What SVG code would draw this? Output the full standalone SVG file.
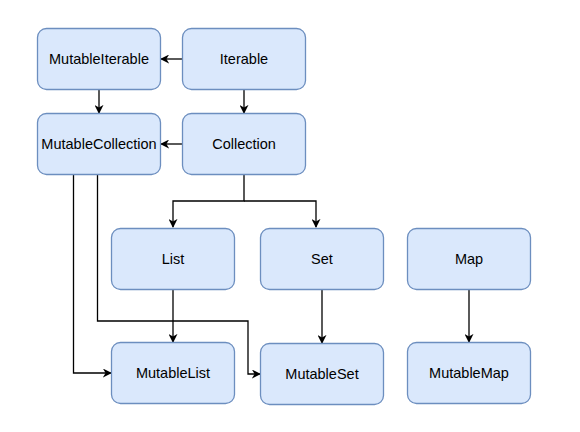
<svg xmlns="http://www.w3.org/2000/svg" width="580" height="432" viewBox="0 0 580 432">
<style>
.n rect{fill:#dae8fc;stroke:#6c8ebf;stroke-width:1.3}
.n text{font-family:"Liberation Sans",Arial,sans-serif;font-size:14.5px;fill:#000;text-anchor:middle}
.e path{fill:none;stroke:#000;stroke-width:1.3;marker-end:url(#a)}
</style>
<defs>
<marker id="a" viewBox="0 0 10 10" refX="9" refY="5" markerWidth="9" markerHeight="9" markerUnits="userSpaceOnUse" orient="auto">
<path d="M0,0 L10,5 L0,10 L3,5 Z" fill="#000"/>
</marker>
</defs>
<rect width="580" height="432" fill="#fff"/>
<g class="e" id="connectors">
<path d="M182.5,59 H161"/>
<path d="M99,89.5 V113"/>
<path d="M244,89.5 V113"/>
<path d="M182.5,144 H161"/>
<path d="M244,174.5 V201 H173 V227"/>
<path d="M244,201 H316 V227"/>
<path d="M73.5,174.5 V373 H111"/>
<path d="M97.5,174.5 V321 H248 V374 H260"/>
<path d="M173,289.5 V342"/>
<path d="M322,289.5 V343"/>
<path d="M469,289.5 V342"/>
</g>
<g class="n" id="MutableIterable"><rect x="37.5" y="28.5" width="123" height="61" rx="9"/><text x="99" y="64">MutableIterable</text></g>
<g class="n" id="Iterable"><rect x="182.5" y="28.5" width="123" height="61" rx="9"/><text x="244" y="64">Iterable</text></g>
<g class="n" id="MutableCollection"><rect x="37.5" y="113.5" width="123" height="61" rx="9"/><text x="99" y="149">MutableCollection</text></g>
<g class="n" id="Collection"><rect x="182.5" y="113.5" width="123" height="61" rx="9"/><text x="244" y="149">Collection</text></g>
<g class="n" id="List"><rect x="111.5" y="228.5" width="123" height="61" rx="9"/><text x="173" y="264">List</text></g>
<g class="n" id="Set"><rect x="260.5" y="228.5" width="123" height="61" rx="9"/><text x="322" y="264">Set</text></g>
<g class="n" id="Map"><rect x="407.5" y="228.5" width="123" height="61" rx="9"/><text x="469" y="264">Map</text></g>
<g class="n" id="MutableList"><rect x="111.5" y="342.5" width="123" height="61" rx="9"/><text x="173" y="378">MutableList</text></g>
<g class="n" id="MutableSet"><rect x="260.5" y="343.5" width="123" height="61" rx="9"/><text x="322" y="379">MutableSet</text></g>
<g class="n" id="MutableMap"><rect x="407.5" y="342.5" width="123" height="61" rx="9"/><text x="469" y="378">MutableMap</text></g>
</svg>
